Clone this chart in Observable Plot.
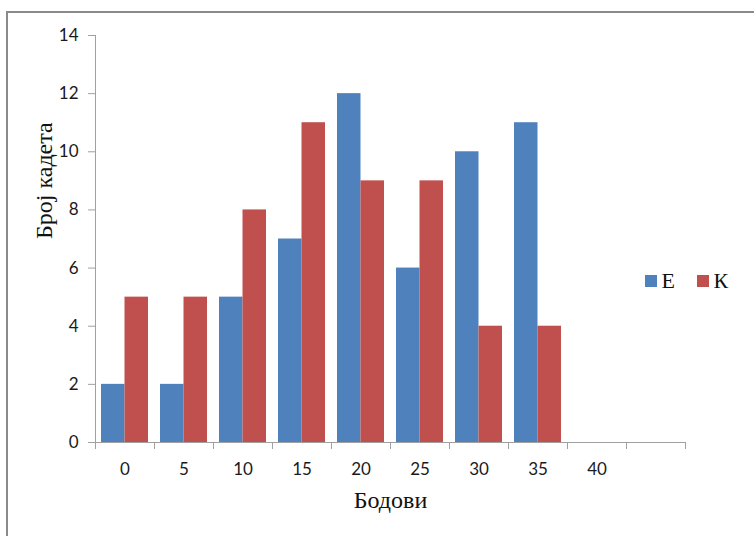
<!DOCTYPE html>
<html>
<head>
<meta charset="utf-8">
<script src="https://cdn.jsdelivr.net/npm/d3@7"></script>
<script src="https://cdn.jsdelivr.net/npm/@observablehq/plot@0.6"></script>
<style>
  html, body { margin: 0; padding: 0; background: #ffffff; }
  #chart { position: relative; width: 754px; height: 536px; overflow: hidden; }
  #chart svg { position: absolute; left: 0; top: 0; }
  #border {
    position: absolute; left: 6px; top: 11px; width: 900px; height: 700px;
    border-top: 2px solid #8a8a8a; border-left: 2px solid #8a8a8a;
    pointer-events: none;
  }
</style>
</head>
<body>
<div id="chart"><div id="border"></div></div>
<script>
// Score bins (the last slot is an empty category with no label)
const scores = ["0", "5", "10", "15", "20", "25", "30", "35", "40", ""];
// Number of cadets per score bin, group Е
const seriesE = [2, 2, 5, 7, 12, 6, 10, 11, 0];
// Number of cadets per score bin, group К
const seriesK = [5, 5, 8, 11, 9, 9, 4, 4, 0];
const seriesNames = ["Е", "К"];
const yTicks = [0, 2, 4, 6, 8, 10, 12, 14];
const xTitle = "Бодови";
const yTitle = "Број кадета";

const colors = ["#4f81bd", "#c0504d"];
const axisGray = "#a0a0a0";
const textColor = "#1a1a1a";

const rows = seriesE.map((e, i) => ({score: scores[i], E: e, K: seriesK[i]}));

const W = 754, H = 536;
const mL = 95, mR = 69, mT = 35, mB = 94;
const bw = (W - mL - mR) / scores.length; // width of one category band
const gap = 6;  // space between a group of bars and the band edge

const legendText = {frameAnchor: "right", text: d => d, dy: 42, textAnchor: "start", lineAnchor: "middle",
  fontFamily: "Liberation Serif", fontSize: 22, fill: "#111"};
const legendSwatch = {frameAnchor: "right", symbol: "square", r: 6.8, fill: d => d, dy: 42, stroke: null};

const chart = Plot.plot({
  width: W,
  height: H,
  marginLeft: mL,
  marginRight: mR,
  marginTop: mT,
  marginBottom: mB,
  style: {fontFamily: "Lato", fontSize: "17px", color: textColor, background: "transparent"},
  x: {type: "band", domain: scores, padding: 0},
  y: {domain: [0, 14]},
  color: {domain: seriesNames, range: colors},
  marks: [
    // grouped bars: Е on the left half of each band, К on the right half
    Plot.barY(rows, {x: "score", y: "E", fill: colors[0], insetLeft: gap, insetRight: bw / 2}),
    Plot.barY(rows, {x: "score", y: "K", fill: colors[1], insetLeft: bw / 2, insetRight: gap}),

    // axis lines
    Plot.ruleY([0], {stroke: axisGray}),
    Plot.ruleX([scores[0]], {x: d => d, dx: -bw / 2, y1: 0, y2: 14, stroke: axisGray}),

    // x tick marks sit on the band boundaries
    Plot.ruleX(scores, {x: d => d, dx: -bw / 2, y1: 0, y2: 0, insetBottom: -7, stroke: axisGray}),
    Plot.ruleX([scores[scores.length - 1]], {x: d => d, dx: bw / 2, y1: 0, y2: 0, insetBottom: -7, stroke: axisGray}),

    Plot.axisY({ticks: yTicks, tickSize: 7, tickPadding: 10, stroke: axisGray, fill: textColor, label: null, fontSize: 17}),
    Plot.axisX({tickSize: 0, tickPadding: 20, fill: textColor, label: null, fontSize: 17}),

    // axis titles
    Plot.text([yTitle], {frameAnchor: "left", rotate: -90, dx: -51, fontFamily: "Liberation Serif", fontSize: 24, fill: "#111"}),
    Plot.text([xTitle], {frameAnchor: "bottom", dy: 58, lineAnchor: "middle", fontFamily: "Liberation Serif", fontSize: 24, fill: "#111"}),

    // legend
    Plot.dot(seriesNames, {...legendSwatch, filter: d => d === seriesNames[0], dx: -34.5}),
    Plot.dot(seriesNames, {...legendSwatch, filter: d => d === seriesNames[1], dx: 17.5}),
    Plot.text(seriesNames, {...legendText, filter: d => d === seriesNames[0], dx: -24}),
    Plot.text(seriesNames, {...legendText, filter: d => d === seriesNames[1], dx: 28})
  ]
});

document.getElementById("chart").insertBefore(chart, document.getElementById("border"));
</script>
</body>
</html>
